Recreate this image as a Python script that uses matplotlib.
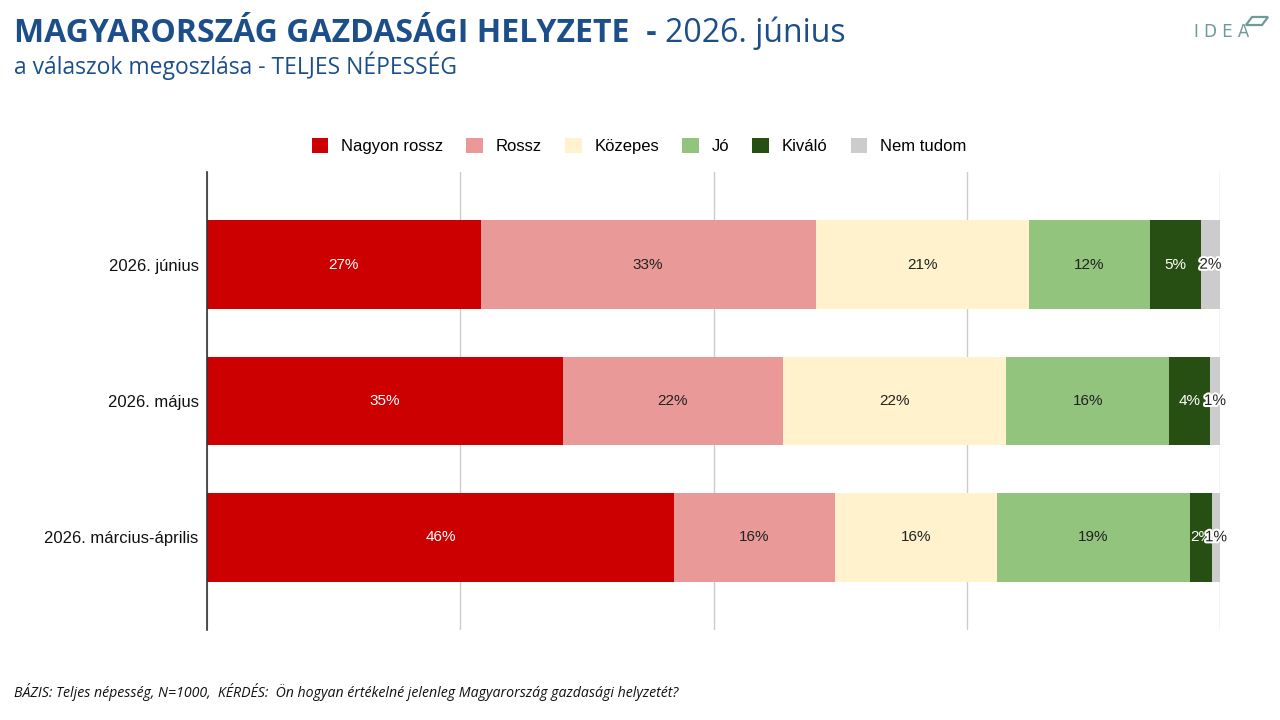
import numpy as np
import matplotlib.pyplot as plt
import matplotlib.patheffects as pe
from matplotlib.patches import Polygon

# survey periods (top to bottom) and answer shares (%)
periods = ["2026. június", "2026. május", "2026. március-április"]
categories = ["Nagyon rossz", "Rossz", "Közepes", "Jó", "Kiváló", "Nem tudom"]
nagyon_rossz = [27.0, 35.1, 46.1]
rossz = [33.1, 21.8, 15.9]
kozepes = [21.0, 22.0, 16.0]
jo = [12.0, 16.1, 19.0]
kivalo = [5.0, 4.0, 2.2]
nem_tudom = [1.9, 1.0, 0.8]

colors = ["#cc0000", "#ea9999", "#fff2cc", "#93c47d", "#274e13", "#cccccc"]
text_colors = ["white", "#222222", "#222222", "#222222", "white", "#222222"]

series = [nagyon_rossz, rossz, kozepes, jo, kivalo, nem_tudom]

fig = plt.figure(figsize=(12.8, 7.2), dpi=100)
ax = fig.add_axes([207 / 1280, 1 - 630 / 720, (1220 - 207) / 1280, (630 - 172) / 720])

y = np.arange(len(periods))
left = np.zeros(len(periods))
for name, vals, c, tc in zip(categories, series, colors, text_colors):
    vals = np.array(vals)
    bars = ax.barh(y, vals, left=left, height=0.65, color=c, label=name, zorder=2)
    for b, v in zip(bars, vals):
        txt = ax.text(b.get_x() + b.get_width() / 2, b.get_y() + b.get_height() / 2,
                      f"{v:.0f}%", ha="center", va="center", color=tc,
                      fontsize=11, family="Liberation Sans", zorder=4)
        if v < 3 and tc != "white":
            txt.set_path_effects([pe.withStroke(linewidth=3, foreground="white")])
    left += vals

ax.set_xlim(0, 100)
ax.set_ylim(len(periods) - 0.5 + 0.18, -0.5 - 0.18)
ax.set_xticks([0, 25, 50, 75, 100])
ax.set_xticklabels([])
ax.tick_params(axis="x", length=0)
ax.tick_params(axis="y", length=0, pad=6)
ax.set_yticks(y)
ax.set_yticklabels(periods, fontsize=12, family="Liberation Sans", color="#111111")
ax.grid(axis="x", color="#cccccc", linewidth=1, zorder=0)
for s in ["top", "right", "bottom"]:
    ax.spines[s].set_visible(False)
ax.spines["left"].set_color("#333333")
ax.spines["left"].set_linewidth(1.2)
ax.spines["left"].set_zorder(5)

leg = fig.legend(loc="center", bbox_to_anchor=(639 / 1280, 1 - 146 / 720), ncol=6,
                 frameon=False, prop={"family": "Liberation Sans", "size": 12},
                 handlelength=1.0, handleheight=1.0, columnspacing=1.4, handletextpad=0.75)

# title block
t1 = fig.text(14 / 1280, 1 - 33 / 720, "MAGYARORSZÁG GAZDASÁGI HELYZETE  -", fontsize=23,
              fontweight="bold", color="#1c4f8a", family="Open Sans", va="center")
fig.canvas.draw()
bb = t1.get_window_extent()
fig.text((bb.x1 + 8) / 1280, 1 - 33 / 720, "2026. június", fontsize=23,
         color="#1c4f8a", family="Open Sans", va="center")
fig.text(14 / 1280, 1 - 66 / 720, "a válaszok megoszlása - TELJES NÉPESSÉG", fontsize=16.5,
         color="#1c4f8a", family="Open Sans", va="center")

# IDEA logo
fig.text(1222 / 1280, 1 - 32 / 720, "I D E A", fontsize=12, color="#6f9a9a",
         family="DejaVu Sans", va="center", ha="center")
fig.patches.append(Polygon([(1252 / 1280, 1 - 17 / 720), (1268 / 1280, 1 - 17 / 720),
                            (1262 / 1280, 1 - 25 / 720), (1246 / 1280, 1 - 25 / 720)],
                           closed=True, fill=False, edgecolor="#6f9a9a", linewidth=1.6,
                           transform=fig.transFigure))

fig.text(14 / 1280, 1 - 692 / 720,
         "BÁZIS: Teljes népesség, N=1000,  KÉRDÉS:  Ön hogyan értékelné jelenleg Magyarország gazdasági helyzetét?",
         fontsize=10.2, style="italic", color="#111111", family="Open Sans", va="center")

fig.savefig("out.png", dpi=100)
